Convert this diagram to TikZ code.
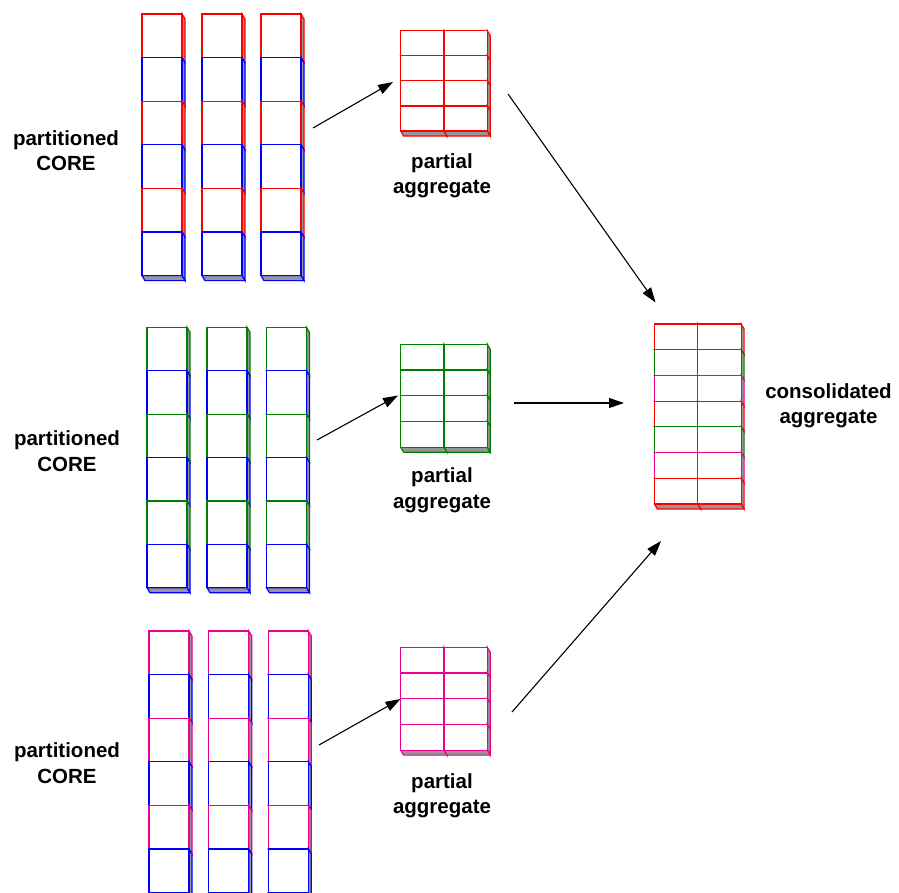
\documentclass[tikz,border=0pt]{standalone}
\usepackage{fontspec}
\setmainfont{Liberation Sans}
\usepackage{tikz}
\usetikzlibrary{arrows.meta}

\definecolor{grpgreen}{RGB}{0,128,0}
\definecolor{facegray}{RGB}{150,150,150}

% one box with its side and bottom face: x, y, w, h, colour
\newcommand{\cubebox}[5]{%
	\filldraw [fill=facegray, draw=#5] (#1+#3,#2) -- ++(3,5) -- ++(0,#4) -- ++(-3,-5) -- cycle;
	\filldraw [fill=facegray, draw=#5] (#1,#2+#4) -- ++(#3,0) -- ++(3,5) -- ++(-#3,0) -- cycle;
	\filldraw [fill=white, draw=#5] (#1,#2) rectangle ++(#3,#4);
}

\begin{document}
\begin{tikzpicture}[x=1pt,y=-1pt,line width=1.2pt]
	\tikzstyle{every node}+=[inner sep=0pt]
	\tikzstyle{lbl}=[align=center,font=\fontsize{20.5}{25.5}\selectfont\bfseries]
	\tikzstyle{flow}=[black,line width=1.1pt,-{Triangle[length=15pt,width=10pt]}]
	\useasboundingbox (0,0) rectangle (899,893);
	% partitioned CORE columns
	\foreach \c in {142,202,261}
		\foreach \r/\col in {0/red,1/blue,2/red,3/blue,4/red,5/blue}
			{\cubebox{\c}{14+\r*43.6}{40}{43.6}{\col}}
	\foreach \c in {147,207,266.5}
		\foreach \r/\col in {0/grpgreen,1/blue,2/grpgreen,3/blue,4/grpgreen,5/blue}
			{\cubebox{\c}{327.3+\r*43.4}{40}{43.4}{\col}}
	\foreach \c in {149,208.7,268.3}
		\foreach \r/\col in {0/magenta,1/blue,2/magenta,3/blue,4/magenta,5/blue}
			{\cubebox{\c}{631+\r*43.6}{40}{43.6}{\col}}
	% partial aggregates
	\foreach \r in {0,...,3}
		\foreach \k in {0,1}
			{\cubebox{400.7+\k*43.3}{30.7+\r*25.1}{43.3}{25.1}{red}}
	\foreach \r in {0,...,3}
		\foreach \k in {0,1}
			{\cubebox{400.7+\k*43.3}{344.3+\r*25.75}{43.3}{25.75}{grpgreen}}
	\foreach \r in {0,...,3}
		\foreach \k in {0,1}
			{\cubebox{400.7+\k*43.3}{647.3+\r*25.7}{43.3}{25.7}{magenta}}
	% consolidated aggregate
	\foreach \r/\col in {0/red,1/grpgreen,2/magenta,3/red,4/grpgreen,5/magenta,6/red}
		\foreach \k in {0,1}
			{\cubebox{654.3+\k*43.4}{324+\r*25.7}{43.4}{25.7}{\col}}
	% labels
	\node [lbl] (core1) at (66,150.5) {partitioned\\CORE};
	\node [lbl] (core2) at (67,451) {partitioned\\CORE};
	\node [lbl] (core3) at (67,763) {partitioned\\CORE};
	\node [lbl] (part1) at (442,175.5) {partial\\aggregate};
	\node [lbl] (part2) at (442,490) {partial\\aggregate};
	\node [lbl] (part3) at (442,795.5) {partial\\aggregate};
	\node [lbl] (cons) at (828.5,405.5) {consolidated\\aggregate};
	% arrow ends
	\coordinate (c1out) at (313,128);
	\coordinate (c2out) at (317,440);
	\coordinate (c3out) at (319,745);
	\coordinate (p1in) at (393,82);
	\coordinate (p2in) at (398,395.5);
	\coordinate (p3in) at (400.5,699);
	\coordinate (p1out) at (508,94);
	\coordinate (p2out) at (514,403);
	\coordinate (p3out) at (512,712);
	\coordinate (s1in) at (655.5,302.5);
	\coordinate (s2in) at (624,403);
	\coordinate (s3in) at (661,541);
	\draw [flow] (c1out) -- (p1in);
	\draw [flow] (c2out) -- (p2in);
	\draw [flow] (c3out) -- (p3in);
	\draw [flow] (p1out) -- (s1in);
	\draw [flow] (p2out) -- (s2in);
	\draw [flow] (p3out) -- (s3in);
\end{tikzpicture}
\end{document}
